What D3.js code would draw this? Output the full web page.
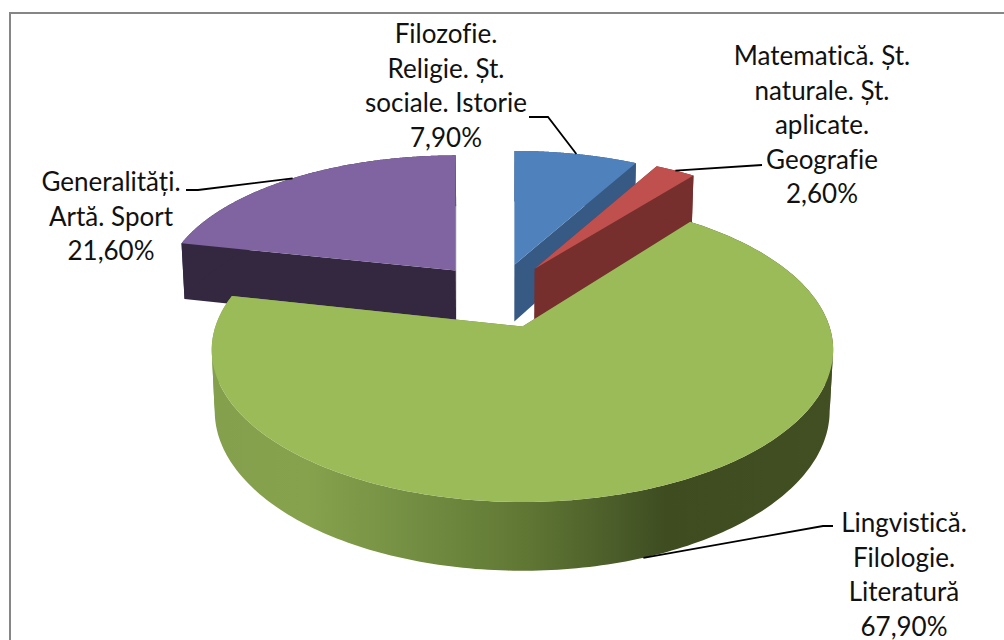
<!DOCTYPE html>
<html><head><meta charset="utf-8">
<style>html,body{margin:0;padding:0;background:#fff;overflow:hidden}svg{display:block}text{font-family:Lato,"Open Sans",sans-serif;font-size:26px;fill:#111;font-variant-ligatures:none}</style>
<script src="https://d3js.org/d3.v7.min.js"></script>
</head><body><svg id="c" width="1004" height="640"></svg>
<script>
const categories = ["Filozofie. Religie. Șt. sociale. Istorie","Matematică. Șt. naturale. Șt. aplicate. Geografie","Lingvistică. Filologie. Literatură","Generalități. Artă. Sport"];
const values = [7.9,2.6,67.9,21.6];
const valueLabels = ["7,90%","2,60%","67,90%","21,60%"];
const labelLines = [["Filozofie.","Religie. Șt.","sociale. Istorie"],["Matematică. Șt.","naturale. Șt.","aplicate.","Geografie"],["Lingvistică.","Filologie.","Literatură"],["Generalități.","Artă. Sport"]];
const labelCenters = [[446,43],[822,65],[904,532],[111,191]];
const leaderElbows = [[[529,117],[548,117]],[[762,165]],[[833,526],[823,526]],[[186,190],[198,190]]];
const leaderDepth = [0,0,1,0];
const topColors = ["#4f81bd","#c0504d","#9bbb59","#8064a2"];
const sideColors = ["#375a85","#772f2e",null,"#332840"];
const drawOrder = [0,1,3,2];
const greenStops = [[0,"#84a04c"],[.15,"#86a24d"],[.35,"#708b40"],[.5,"#607734"],[.65,"#4a5c29"],[.73,"#3e4c20"],[1,"#414f22"]];

// perspective camera for the exploded 3-D pie
const px=498, py=295, A=297, B=139, H=59, P=.149, Q=.01, EX=.233;
function project(ox,oy,X,Y,z){
  const w=1-P*(oy+Y)+Q*z, w0=1-P*oy+Q*z;
  return [px+A*ox/w0+A*X/w, py+(B*(oy+Y)+H*z)/w];
}

const pie=d3.pie().sort(null).value(d=>d);
const arcs=pie(values);
const svg=d3.select("#c");
svg.append("rect").attr("x",10).attr("y",13).attr("width",1010).attr("height",660).attr("fill","#fff").attr("stroke","#868686").attr("stroke-width",2);

const defs=svg.append("defs");
const g=defs.append("linearGradient").attr("id","gw").attr("gradientUnits","userSpaceOnUse").attr("x1",214).attr("x2",834).attr("y1",0).attr("y2",0);
greenStops.forEach(s=>g.append("stop").attr("offset",s[0]).attr("stop-color",s[1]));

const line=d3.line().curve(d3.curveLinear);
function geom(a){
  const mid=(a.startAngle+a.endAngle)/2, ox=EX*Math.sin(mid), oy=-EX*Math.cos(mid);
  const pt=(t,r,z)=>project(ox,oy,r*Math.sin(t),-r*Math.cos(t),z);
  const ts=d3.range(0,241).map(i=>a.startAngle+(a.endAngle-a.startAngle)*i/240);
  return {mid,pt,ts};
}
// split the rim where it turns back horizontally, so each wall piece fills without folding
function monotonic(ts,pt){
  const runs=[[ts[0]]];let dir=0;
  for(let k=1;k<ts.length;k++){
    const d=Math.sign(pt(ts[k],1,0)[0]-pt(ts[k-1],1,0)[0]);
    if(dir&&d&&d!==dir)runs.push([ts[k-1]]);
    if(d)dir=d;
    runs[runs.length-1].push(ts[k]);
  }
  return runs;
}
drawOrder.forEach(i=>{
  const a=arcs[i], {pt,ts}=geom(a);
  const side=sideColors[i]||"url(#gw)";
  const cut=t=>line([pt(t,0,0),pt(t,1,0),pt(t,1,1),pt(t,0,1)])+"Z";
  const layer=svg.append("g");
  layer.append("path").attr("d",cut(a.startAngle)).attr("fill",side);
  layer.append("path").attr("d",cut(a.endAngle)).attr("fill",side);
  monotonic(ts,pt).forEach(run=>{
    layer.append("path").attr("d",line(run.map(t=>pt(t,1,0)).concat(run.slice().reverse().map(t=>pt(t,1,1))))+"Z").attr("fill",side);
  });
  layer.append("path").attr("d",line([pt(0,0,0)].concat(ts.map(t=>pt(t,1,0))))+"Z").attr("fill",topColors[i]);
});
// leaders
arcs.forEach((a,i)=>{
  const {mid,pt}=geom(a);
  const pts=leaderElbows[i].concat([pt(mid,1,leaderDepth[i])]);
  svg.append("path").attr("d",line(pts)).attr("fill","none").attr("stroke","#000").attr("stroke-width",1.8);
});
// labels
categories.forEach((c,i)=>{
  const t=svg.append("text").attr("text-anchor","middle");
  labelLines[i].concat([valueLabels[i]]).forEach((s,k)=>{
    t.append("tspan").attr("x",labelCenters[i][0]).attr("y",labelCenters[i][1]+k*34.5).text(s);
  });
});
</script></body></html>
